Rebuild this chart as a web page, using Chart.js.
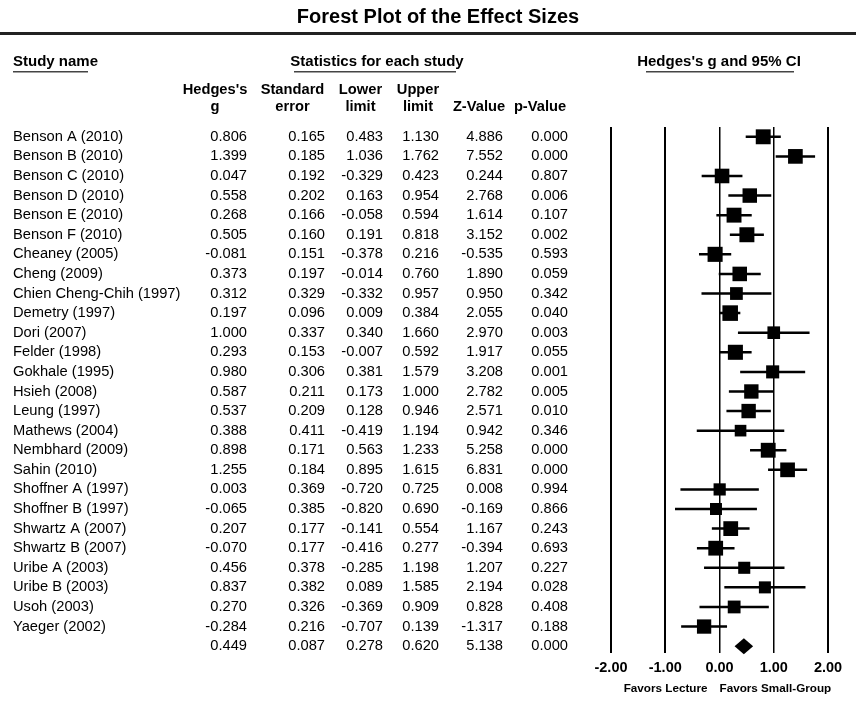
<!DOCTYPE html>
<html>
<head>
<meta charset="utf-8">
<script src="https://cdn.jsdelivr.net/npm/chart.js@4.4.1/dist/chart.umd.min.js"></script>
<style>
  html, body { margin: 0; padding: 0; background: #fff; }
  canvas { display: block; }
</style>
</head>
<body>
<canvas id="forest" width="856" height="722"></canvas>
<script>
const studies = [
  'Benson A (2010)', 'Benson B (2010)', 'Benson C (2010)', 'Benson D (2010)',
  'Benson E (2010)', 'Benson F (2010)', 'Cheaney (2005)', 'Cheng (2009)',
  'Chien Cheng-Chih (1997)', 'Demetry (1997)', 'Dori (2007)', 'Felder (1998)',
  'Gokhale (1995)', 'Hsieh (2008)', 'Leung (1997)', 'Mathews (2004)',
  'Nembhard (2009)', 'Sahin (2010)', 'Shoffner A (1997)', 'Shoffner B (1997)',
  'Shwartz A (2007)', 'Shwartz B (2007)', 'Uribe A (2003)', 'Uribe B (2003)',
  'Usoh (2003)', 'Yaeger (2002)'
];
const hedgesG = [0.806, 1.399, 0.047, 0.558, 0.268, 0.505, -0.081, 0.373, 0.312, 0.197, 1.000, 0.293, 0.980,
  0.587, 0.537, 0.388, 0.898, 1.255, 0.003, -0.065, 0.207, -0.070, 0.456, 0.837, 0.270, -0.284];
const stdErr = [0.165, 0.185, 0.192, 0.202, 0.166, 0.160, 0.151, 0.197, 0.329, 0.096, 0.337, 0.153, 0.306,
  0.211, 0.209, 0.411, 0.171, 0.184, 0.369, 0.385, 0.177, 0.177, 0.378, 0.382, 0.326, 0.216];
const lowerLimit = [0.483, 1.036, -0.329, 0.163, -0.058, 0.191, -0.378, -0.014, -0.332, 0.009, 0.340, -0.007, 0.381,
  0.173, 0.128, -0.419, 0.563, 0.895, -0.720, -0.820, -0.141, -0.416, -0.285, 0.089, -0.369, -0.707];
const upperLimit = [1.130, 1.762, 0.423, 0.954, 0.594, 0.818, 0.216, 0.760, 0.957, 0.384, 1.660, 0.592, 1.579,
  1.000, 0.946, 1.194, 1.233, 1.615, 0.725, 0.690, 0.554, 0.277, 1.198, 1.585, 0.909, 0.139];
const zValue = [4.886, 7.552, 0.244, 2.768, 1.614, 3.152, -0.535, 1.890, 0.950, 2.055, 2.970, 1.917, 3.208,
  2.782, 2.571, 0.942, 5.258, 6.831, 0.008, -0.169, 1.167, -0.394, 1.207, 2.194, 0.828, -1.317];
const pValue = [0.000, 0.000, 0.807, 0.006, 0.107, 0.002, 0.593, 0.059, 0.342, 0.040, 0.003, 0.055, 0.001,
  0.005, 0.010, 0.346, 0.000, 0.000, 0.994, 0.866, 0.243, 0.693, 0.227, 0.028, 0.408, 0.188];
// pooled estimate: g, standard error, lower, upper, Z, p
const pooled = [0.449, 0.087, 0.278, 0.620, 5.138, 0.000];
const xTicks = [-2, -1, 0, 1, 2];

const FONT = '"Liberation Sans", Arial, sans-serif';
const pooledRow = studies.length;
const columns = [hedgesG, stdErr, lowerLimit, upperLimit, zValue, pValue];
const colRight = [247, 325, 383, 439, 503, 568];
const colCenter = [215, 292.5, 360.5, 418, 479, 540];
const head1 = ["Hedges's", 'Standard', 'Lower', 'Upper', '', ''];
const head2 = ['g', 'error', 'limit', 'limit', 'Z-Value', 'p-Value'];

// whiskers: one line broken by empty points
const ciPoints = [];
studies.forEach((s, i) => {
  ciPoints.push({x: lowerLimit[i], y: i}, {x: upperLimit[i], y: i}, {x: null, y: null});
});
// box area follows the random-effects weight
const boxRadius = stdErr.map(se => (7.0 / Math.sqrt(se * se + 0.193)) / Math.SQRT2);

const tablePlugin = {
  id: 'table',
  afterDatasetsDraw(chart) {
    const {ctx, scales: {x, y}} = chart;
    const yc = y.getPixelForValue(pooledRow);
    ctx.save();
    ctx.fillStyle = '#000';
    ctx.beginPath();
    ctx.moveTo(x.getPixelForValue(pooled[2]), yc);
    ctx.lineTo(x.getPixelForValue(pooled[0]), yc - 8);
    ctx.lineTo(x.getPixelForValue(pooled[3]), yc);
    ctx.lineTo(x.getPixelForValue(pooled[0]), yc + 8);
    ctx.closePath();
    ctx.fill();
    ctx.restore();
  },
  afterDraw(chart) {
    const {ctx, scales: {x, y}} = chart;
    ctx.save();
    ctx.fillStyle = '#000';
    ctx.textBaseline = 'middle';

    ctx.textAlign = 'center';
    ctx.font = `bold 20px ${FONT}`;
    ctx.fillText('Forest Plot of the Effect Sizes', 438, 17);
    ctx.fillStyle = '#222';
    ctx.fillRect(0, 32, 856, 3);

    ctx.fillStyle = '#000';
    ctx.font = `bold 15px ${FONT}`;
    ctx.textAlign = 'left';
    ctx.fillText('Study name', 13, 62);
    ctx.textAlign = 'center';
    ctx.fillText('Statistics for each study', 377, 62);
    ctx.fillText("Hedges's g and 95% CI", 719, 62);
    ctx.fillStyle = '#444';
    ctx.fillRect(13, 71, 75, 1.5);
    ctx.fillRect(294, 71, 162, 1.5);
    ctx.fillRect(646, 71, 148, 1.5);

    ctx.fillStyle = '#000';
    ctx.font = `bold 14.7px ${FONT}`;
    colCenter.forEach((cx, c) => {
      ctx.fillText(head1[c], cx, 90);
      ctx.fillText(head2[c], cx, 107);
    });

    ctx.font = `14.7px ${FONT}`;
    studies.forEach((name, i) => {
      const py = y.getPixelForValue(i);
      ctx.textAlign = 'left';
      ctx.fillText(name, 13, py);
      ctx.textAlign = 'right';
      columns.forEach((col, c) => ctx.fillText(col[i].toFixed(3), colRight[c], py));
    });
    const py = y.getPixelForValue(pooledRow);
    pooled.forEach((v, c) => ctx.fillText(v.toFixed(3), colRight[c], py));

    const x0 = x.getPixelForValue(0);
    ctx.font = `bold 11.7px ${FONT}`;
    ctx.textAlign = 'right';
    ctx.fillText('Favors Lecture', x0 - 12, 689);
    ctx.textAlign = 'left';
    ctx.fillText('Favors Small-Group', x0, 689);
    ctx.restore();
  }
};

new Chart(document.getElementById('forest'), {
  type: 'scatter',
  data: {
    datasets: [
      {
        data: ciPoints,
        showLine: true,
        spanGaps: false,
        borderColor: '#000',
        borderWidth: 2.5,
        pointRadius: 0,
        pointHoverRadius: 0
      },
      {
        data: hedgesG.map((g, i) => ({x: g, y: i})),
        pointStyle: 'rect',
        pointRadius: boxRadius,
        backgroundColor: '#000',
        borderWidth: 0
      }
    ]
  },
  options: {
    responsive: false,
    animation: false,
    layout: { padding: { left: 611, right: 28, top: 127, bottom: 43 } },
    plugins: { legend: { display: false }, tooltip: { enabled: false } },
    scales: {
      x: {
        type: 'linear',
        min: xTicks[0],
        max: xTicks[xTicks.length - 1],
        afterFit: s => { s.height = 26; },
        afterBuildTicks: s => { s.ticks = xTicks.map(v => ({value: v})); },
        border: { display: false },
        grid: {
          color: '#000',
          lineWidth: c => (c.tick && (c.tick.value === 0 || c.tick.value === 1)) ? 1.5 : 2,
          drawTicks: false
        },
        ticks: {
          color: '#000',
          padding: 6,
          maxRotation: 0,
          autoSkip: false,
          font: { family: FONT, size: 14.5, weight: 'bold' },
          callback: v => Number(v).toFixed(2)
        }
      },
      y: {
        type: 'linear',
        reverse: true,
        min: -0.5,
        max: 26.35,
        display: false
      }
    }
  },
  plugins: [tablePlugin]
});
</script>
</body>
</html>
